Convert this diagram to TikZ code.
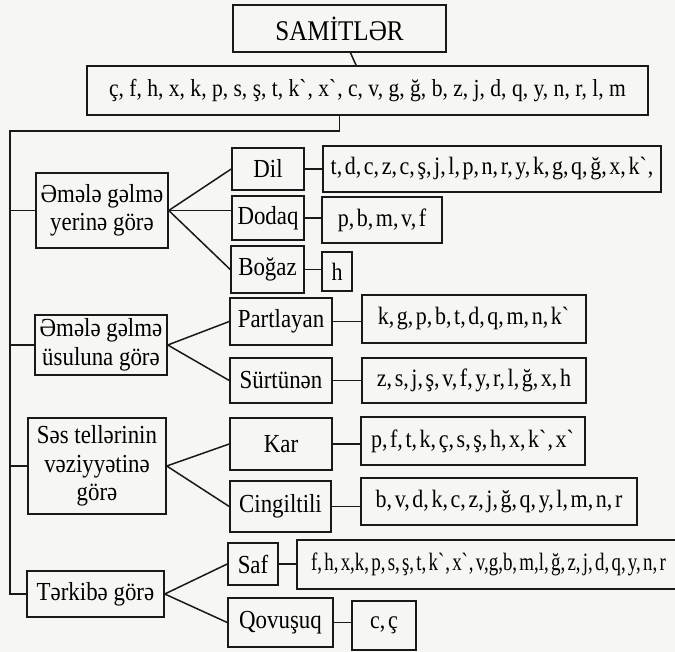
\documentclass[tikz,border=0pt]{standalone}
\usepackage{fontspec}
\setmainfont{Liberation Serif}[FakeStretch=0.88]
\definecolor{InkBlack}{RGB}{25,25,25}
\definecolor{PaperGray}{RGB}{246,246,244}
\newcommand{\grv}{\textasciigrave}
\tikzset{
  box/.style={draw=InkBlack,line width=1.5pt,inner sep=1pt,align=center,
    font=\fontsize{26}{28.5}\selectfont},
  headbox/.style={box,font=\fontsize{28.5}{30}\selectfont},
  soundbox/.style={box,font=\fontsize{25}{26}\selectfont,
    execute at begin node={\spaceskip=2.6pt plus 1pt\relax}},
  link/.style={draw=InkBlack,line width=1.5pt}
}

\begin{document}
\begin{tikzpicture}[x=1pt,y=-1pt]
  \fill[PaperGray] (0,0) rectangle (675,652);
  \useasboundingbox (0,0) rectangle (675,652);
  % head and full set
  \node[headbox,minimum width=213,minimum height=47] (sam) at (339.5,28.5) {SAMİTLƏR};
  \node[box,font=\fontsize{24.5}{26}\selectfont,minimum width=561,minimum height=49] (all) at (367.5,90.5)
    {ç, f, h, x, k, p, s, ş, t, k\grv, x\grv, c, v, g, ğ, b, z, j, d, q, y, n, r, l, m};
  % groups
  \node[box,minimum width=132,minimum height=75] (yer) at (102,210.5) {Əmələ gəlmə\\yerinə görə};
  \node[box,minimum width=132,minimum height=60] (usul) at (101,345) {Əmələ gəlmə\\üsuluna görə};
  \node[box,minimum width=138,minimum height=96] (ses) at (97,466) {Səs tellərinin\\vəziyyətinə\\görə};
  \node[box,minimum width=137,minimum height=46] (terk) at (95.5,594) {Tərkibə görə};
  % kinds
  \node[box,minimum width=72,minimum height=42] (dil) at (268,169) {Dil};
  \node[box,minimum width=72,minimum height=44] (dodaq) at (268,218) {Dodaq};
  \node[box,minimum width=73,minimum height=47] (bogaz) at (267.5,269.5) {Boğaz};
  \node[box,minimum width=102,minimum height=47] (partl) at (281,321.5) {Partlayan};
  \node[box,minimum width=102,minimum height=45] (surt) at (281,380.5) {Sürtünən};
  \node[box,minimum width=102,minimum height=52] (kar) at (281,444) {Kar};
  \node[box,minimum width=101,minimum height=51] (cing) at (280.5,506.5) {Cingiltili};
  \node[box,minimum width=50,minimum height=42] (saf) at (253,564) {Saf};
  \node[box,minimum width=105,minimum height=49] (qov) at (280.5,622.5) {Qovuşuq};
  % sound sets
  \node[soundbox,minimum width=338,minimum height=46] (dilset) at (492,169)
    {t, d, c, z, c, ş, j, l, p, n, r, y, k, g, q, ğ, x, k\grv,};
  \node[soundbox,minimum width=120,minimum height=46] (dodaqset) at (382,220) {p, b, m, v, f};
  \node[soundbox,minimum width=30,minimum height=39] (bogazset) at (337,271.5) {h};
  \node[soundbox,minimum width=224,minimum height=48] (partlset) at (474,319)
    {k, g, p, b, t, d, q, m, n, k\grv};
  \node[soundbox,minimum width=224,minimum height=45] (surtset) at (474,380.5)
    {z, s, j, ş, v, f, y, r, l, ğ, x, h};
  \node[soundbox,minimum width=224,minimum height=48] (karset) at (473,441)
    {p, f, t, k, ç, s, ş, h, x, k\grv, x\grv};
  \node[soundbox,minimum width=276,minimum height=47] (cingset) at (499,501.5)
    {b, v, d, k, c, z, j, ğ, q, y, l, m, n, r};
  \node[soundbox,minimum width=383,minimum height=49] (safset) at (488.5,564.5)
    {\scalebox{0.86}[1]{f, h, x,k, p, s, ş, t, k\grv, x\grv, v,g,b, m,l, ğ, z, j, d, q, y, n, r}};
  \node[soundbox,minimum width=64,minimum height=49] (qovset) at (384,625.5) {c, ç};
  % trunk
  \coordinate (fork) at (10,131);
  \draw[link] (sam) -- (all);
  \draw[link] (all.south -| sam.south) |- (fork) |- (terk.west);
  \foreach \g in {yer,usul,ses}
    \draw[link] (\g.west -| fork) -- (\g.west);
  % fans
  \draw[link] (dil.west) -- (yer.east) -- (bogaz.west);
  \draw[link] (yer.east) -- (dodaq.west |- yer.east);
  \draw[link] (partl.west) -- (usul.east) -- (surt.west);
  \draw[link] (kar.west) -- (ses.east) -- (cing.west);
  \draw[link] (saf.west) -- (terk.east) -- (qov.west);
  % kinds to sets
  \foreach \a in {dil,dodaq,bogaz,partl,surt,kar,cing,saf,qov}
    \draw[link] (\a.east) -- (\a.east -| \a set.west);
\end{tikzpicture}
\end{document}
